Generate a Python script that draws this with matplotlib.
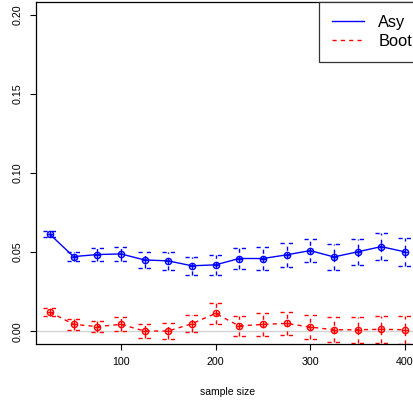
import numpy as np
import matplotlib.pyplot as plt

plt.rcParams['font.family'] = ['Liberation Sans', 'DejaVu Sans']

# dados
n = [25, 50, 75, 100, 125, 150, 175, 200, 225, 250, 275, 300, 325, 350, 375, 400]
asy = [0.0613, 0.0472, 0.0485, 0.0489, 0.0451, 0.0445, 0.0414, 0.0420,
       0.0460, 0.0460, 0.0483, 0.0510, 0.0470, 0.0502, 0.0535, 0.0502]
asy_err = [0.0020, 0.0030, 0.0040, 0.0045, 0.0050, 0.0055, 0.0057, 0.0063,
           0.0065, 0.0070, 0.0075, 0.0075, 0.0080, 0.0080, 0.0085, 0.0087]
boot = [0.0122, 0.0044, 0.0030, 0.0044, 0.0002, 0.0002, 0.0048, 0.0113,
        0.0034, 0.0044, 0.0050, 0.0027, 0.0010, 0.0010, 0.0013, 0.0010]
boot_err = [0.0028, 0.0035, 0.0037, 0.0044, 0.0045, 0.0052, 0.0055, 0.0064,
            0.0065, 0.0072, 0.0073, 0.0075, 0.0080, 0.0083, 0.0087, 0.0087]

fig = plt.figure(figsize=(4.14, 4.04), dpi=100)
ax = fig.add_axes([0.0862, 0.1485, 0.926, 0.8465])

ax.axhline(0, color='#d3d3d3', lw=1, zorder=0)

dash = (0, (3, 3))
cap = 7  # meia largura do "chapéu" em unidades de x


def serie(y, err, cor, ls, label):
    y = np.array(y)
    err = np.array(err)
    ax.plot(n, y, color=cor, lw=1, ls=ls, label=label)
    ax.plot(n, y, 'o', mfc='none', mec=cor, ms=4.5, mew=1)
    ax.plot(n, y, '+', color=cor, ms=4.5, mew=1)
    ax.vlines(n, y - err, y + err, color=cor, lw=1, linestyles=dash)
    x = np.array(n)
    ax.hlines(y - err, x - cap, x + cap, color=cor, lw=1, linestyles=dash)
    ax.hlines(y + err, x - cap, x + cap, color=cor, lw=1, linestyles=dash)


serie(asy, asy_err, 'blue', '-', 'Asy')
serie(boot, boot_err, 'red', dash, 'Boot')

ax.set_xlim(10, 415)
ax.set_ylim(-0.008, 0.208)
ax.set_xticks([100, 200, 300, 400])
ax.set_yticks([0.0, 0.05, 0.10, 0.15, 0.20])
ax.set_yticklabels(['0.00', '0.05', '0.10', '0.15', '0.20'], rotation=90, va='center')
ax.tick_params(direction='out', length=4.5, width=0.8, labelsize=7.7, pad=5)
for s in ax.spines.values():
    s.set_linewidth(0.9)
ax.set_xlabel('sample size', fontsize=7.5, labelpad=14)

leg = ax.legend(loc='upper right', bbox_to_anchor=(1.016, 1), borderaxespad=0,
                fancybox=False, fontsize=11.8, handlelength=1.9, handletextpad=0.9,
                labelspacing=0.25, borderpad=0.8, framealpha=1)
leg.get_frame().set_edgecolor('#333333')
leg.get_frame().set_linewidth(0.9)

plt.savefig('out.png', dpi=100)
